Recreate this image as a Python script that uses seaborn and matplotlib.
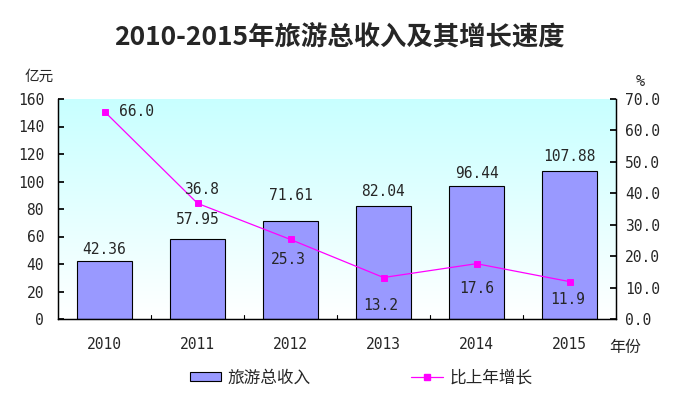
import numpy as np
import pandas as pd
import matplotlib
matplotlib.use("Agg")
import matplotlib.pyplot as plt
import seaborn as sns
from matplotlib.colors import LinearSegmentedColormap
from matplotlib.patches import Patch
from matplotlib.lines import Line2D

# data
years = ["2010", "2011", "2012", "2013", "2014", "2015"]
income = [42.36, 57.95, 71.61, 82.04, 96.44, 107.88]
growth = [66.0, 36.8, 25.3, 13.2, 17.6, 11.9]
income_labels = ["42.36", "57.95", "71.61", "82.04", "96.44", "107.88"]
growth_labels = ["66.0", "36.8", "25.3", "13.2", "17.6", "11.9"]
left_ticks = [0, 20, 40, 60, 80, 100, 120, 140, 160]
right_ticks = [0, 10, 20, 30, 40, 50, 60, 70]

NUM_FONT = ['DejaVu Sans Mono', 'Noto Sans CJK SC']
CJK_FONT = ['Noto Sans CJK SC', 'DejaVu Sans']


def main():
    sns.set_theme(style="white")
    plt.rcParams['font.family'] = CJK_FONT

    df = pd.DataFrame({"year": years, "income": income, "growth": growth})

    fig = plt.figure(figsize=(6.76, 3.96), dpi=100)
    ax = fig.add_axes([58 / 676, 1 - 319 / 396, 558 / 676, 220 / 396])

    # gradient background: light cyan at top fading to white
    cmap = LinearSegmentedColormap.from_list("bg", ["#ffffff", "#c8ffff"])
    grad = np.linspace(0, 1, 256).reshape(-1, 1)
    ax.imshow(grad, aspect="auto", cmap=cmap, origin="lower",
              extent=[-0.5, 5.5, 0, 160], zorder=0)

    sns.barplot(data=df, x="year", y="income", ax=ax, color="#9999ff",
                edgecolor="black", linewidth=0.8, width=0.6, saturation=1,
                zorder=2)
    ax.set_xlim(-0.5, 5.5)
    ax.set_ylim(0, 160)
    ax.set_yticks(left_ticks)
    ax.set_yticklabels([str(t) for t in left_ticks], family=NUM_FONT)
    ax.set_xlabel("")
    ax.set_ylabel("")
    ax.tick_params(axis="y", direction="in", length=4, labelsize=10.5,
                   pad=10, left=True, color="black")
    ax.set_xticks(range(len(years)))
    ax.set_xticklabels(years, fontsize=10.5, family=NUM_FONT)
    ax.tick_params(axis="x", length=0, pad=13)
    # small ticks between categories
    for b in np.arange(0.5, 5.5, 1.0):
        ax.plot([b, b], [0, 3], color="black", lw=0.8, zorder=3,
                clip_on=False)

    bar_gap = [4, 12, 18, 7, 5, 7]
    for i, (v, lab) in enumerate(zip(income, income_labels)):
        ax.annotate(lab, (i, v), xytext=(0, bar_gap[i]),
                    textcoords="offset pixels", ha="center", va="bottom",
                    fontsize=10.5, family=NUM_FONT, zorder=5)

    ax2 = ax.twinx()
    sns.pointplot(data=df, x="year", y="growth", ax=ax2, color="#ff00ff",
                  markers="s", linestyles="-", markersize=5, linewidth=0.9,
                  zorder=4)
    ax2.set_xlim(-0.5, 5.5)
    ax2.set_ylim(0, 70)
    ax2.set_yticks(right_ticks)
    ax2.set_yticklabels([f"{t:.1f}" for t in right_ticks], family=NUM_FONT)
    ax2.set_ylabel("")
    ax2.set_xlabel("")
    ax2.tick_params(axis="y", direction="in", length=4, labelsize=10.5,
                    pad=6.5, right=True, color="black")

    offsets = [(14, 0, "left"), (4, 14, "center"), (-2, -20, "center"),
               (-3, -28, "center"), (0, -25, "center"), (-2, -18, "center")]
    for i, (v, lab) in enumerate(zip(growth, growth_labels)):
        dx, dy, ha = offsets[i]
        ax2.annotate(lab, (i, v), xytext=(dx, dy), textcoords="offset pixels",
                     ha=ha, va="center", fontsize=10.5, family=NUM_FONT,
                     zorder=6)

    for a in (ax, ax2):
        a.spines["top"].set_visible(False)
        for s in ("left", "right", "bottom"):
            a.spines[s].set_color("black")
            a.spines[s].set_linewidth(0.9)

    fig.text(339 / 676, 1 - 37 / 396, "2010-2015年旅游总收入及其增长速度",
             ha="center", va="center", fontsize=19, fontweight="bold")
    fig.text(39 / 676, 1 - 77 / 396, "亿元", ha="center", va="center",
             fontsize=10.5)
    fig.text(640 / 676, 1 - 82 / 396, "%", ha="center", va="center",
             fontsize=11, family=NUM_FONT)
    fig.text(625 / 676, 1 - 347 / 396, "年份", ha="center", va="center",
             fontsize=11.5)

    handles = [Patch(facecolor="#9999ff", edgecolor="black", linewidth=0.8),
               Line2D([0], [0], color="#ff00ff", lw=0.9, marker="s",
                      markersize=5)]
    fig.legend(handles, ["旅游总收入", "比上年增长"], loc="center",
               bbox_to_anchor=(361 / 676, 1 - 378 / 396), ncol=2,
               frameon=False, fontsize=12, columnspacing=6.0,
               handlelength=1.9, handletextpad=0.4, handleheight=0.5)

    fig.savefig("out.png", dpi=100)


if __name__ == "__main__":
    main()
